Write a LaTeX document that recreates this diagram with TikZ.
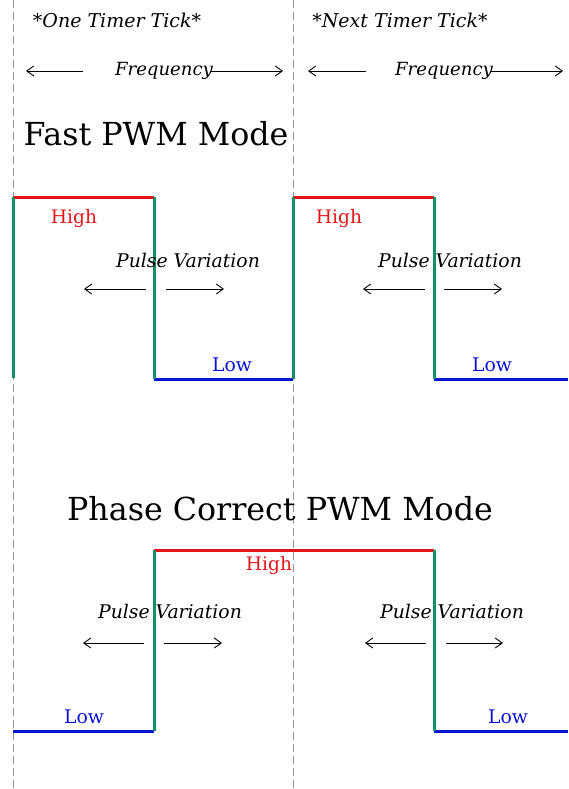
\documentclass[tikz,border=0pt]{standalone}
\usepackage{fontspec}
\setmainfont{DejaVu Serif}
\usetikzlibrary{arrows.meta}
\definecolor{pwmred}{RGB}{228,22,26}
\definecolor{pwmblue}{RGB}{10,20,215}
\definecolor{pwmgreen}{RGB}{22,142,104}
\definecolor{tickgray}{RGB}{150,150,150}
\begin{document}
\begin{tikzpicture}[x=1pt,y=-1pt,
  tickline/.style={draw=tickgray, line width=0.9pt, dash pattern=on 8pt off 4pt},
  hiline/.style={draw=pwmred, line width=3pt},
  loline/.style={draw=pwmblue, line width=3pt},
  edgeline/.style={draw=pwmgreen, line width=3pt},
  arr/.style={-{Straight Barb[length=7pt,width=10pt]}, line width=0.9pt},
  title/.style={inner sep=0pt, anchor=base, font=\fontsize{31.7}{32}\selectfont},
  head/.style={inner sep=0pt, anchor=base, font=\itshape\fontsize{19}{19}\selectfont},
  freq/.style={inner sep=0pt, anchor=base, font=\itshape\fontsize{18.1}{18}\selectfont},
  pulse/.style={inner sep=0pt, anchor=base, font=\itshape\fontsize{18.8}{19}\selectfont},
  hilbl/.style={inner sep=0pt, anchor=base, text=pwmred, font=\fontsize{18.6}{19}\selectfont},
  lolbl/.style={inner sep=0pt, anchor=base, text=pwmblue, font=\fontsize{18.8}{19}\selectfont}]
\useasboundingbox[fill=white] (0,0) rectangle (568,789);

% timer tick dashed lines
\coordinate (t1top) at (13,0);
\coordinate (t1bot) at (13,789);
\coordinate (t2top) at (293,0);
\coordinate (t2bot) at (293,789);
\draw[tickline] (t1top) -- (t1bot);
\draw[tickline] (t2top) -- (t2bot);

% headers
\node[head] (tick1) at (117,28) {*One Timer Tick*};
\node[head] (tick2) at (400,28) {*Next Timer Tick*};

\node[freq] (freq1) at (164,76) {Frequency};
\node[freq] (freq2) at (444,76) {Frequency};
\coordinate (f1a) at (83,71);  \coordinate (f1b) at (26,71);
\coordinate (f1c) at (210,71); \coordinate (f1d) at (283,71);
\coordinate (f2a) at (366,71); \coordinate (f2b) at (308,71);
\coordinate (f2c) at (490,71); \coordinate (f2d) at (563,71);
\draw[arr] (f1a) -- (f1b);
\draw[arr] (f1c) -- (f1d);
\draw[arr] (f2a) -- (f2b);
\draw[arr] (f2c) -- (f2d);

% ---------------- Fast PWM ----------------
\node[title] (fasttitle) at (156,145) {Fast PWM Mode};

\coordinate (a1) at (13,378);
\coordinate (a2) at (13,197);
\coordinate (a3) at (154,197);
\coordinate (a4) at (154,379);
\coordinate (a5) at (293,379);
\coordinate (a6) at (293,197);
\coordinate (a7) at (434,197);
\coordinate (a8) at (434,379);
\coordinate (a9) at (568,379);
\draw[hiline] (a2) -- (a3);
\draw[hiline] (a6) -- (a7);
\draw[loline] (a4) -- (a5);
\draw[loline] (a8) -- (a9);
\draw[edgeline] (a1) -- (a2);
\draw[edgeline] (a3) -- (a4);
\draw[edgeline] (a5) -- (a6);
\draw[edgeline] (a7) -- (a8);

\node[hilbl] (fhigh1) at (74,223) {High};
\node[hilbl] (fhigh2) at (339,223) {High};
\node[lolbl] (flow1) at (232,371) {Low};
\node[lolbl] (flow2) at (492,371) {Low};
\node[pulse] (fpv1) at (188,267) {Pulse Variation};
\node[pulse] (fpv2) at (450,267) {Pulse Variation};
\coordinate (p1a) at (146,289); \coordinate (p1b) at (84,289);
\coordinate (p1c) at (166,289); \coordinate (p1d) at (224,289);
\coordinate (p2a) at (425,289); \coordinate (p2b) at (363,289);
\coordinate (p2c) at (444,289); \coordinate (p2d) at (502,289);
\draw[arr] (p1a) -- (p1b);
\draw[arr] (p1c) -- (p1d);
\draw[arr] (p2a) -- (p2b);
\draw[arr] (p2c) -- (p2d);

% ---------------- Phase Correct PWM ----------------
\node[title] (phasetitle) at (280,520) {Phase Correct PWM Mode};

\coordinate (b1) at (13,731);
\coordinate (b2) at (154,731);
\coordinate (b3) at (154,550);
\coordinate (b4) at (434,550);
\coordinate (b5) at (434,731);
\coordinate (b6) at (568,731);
\draw[loline] (b1) -- (b2);
\draw[hiline] (b3) -- (b4);
\draw[loline] (b5) -- (b6);
\draw[edgeline] (b2) -- (b3);
\draw[edgeline] (b4) -- (b5);

\node[hilbl] (phigh) at (269,570) {High};
\node[lolbl] (plow1) at (84,723) {Low};
\node[lolbl] (plow2) at (508,723) {Low};
\node[pulse] (ppv1) at (170,618) {Pulse Variation};
\node[pulse] (ppv2) at (452,618) {Pulse Variation};
\coordinate (q1a) at (144,643); \coordinate (q1b) at (83,643);
\coordinate (q1c) at (164,643); \coordinate (q1d) at (222,643);
\coordinate (q2a) at (426,643); \coordinate (q2b) at (365,643);
\coordinate (q2c) at (446,643); \coordinate (q2d) at (503,643);
\draw[arr] (q1a) -- (q1b);
\draw[arr] (q1c) -- (q1d);
\draw[arr] (q2a) -- (q2b);
\draw[arr] (q2c) -- (q2d);
\end{tikzpicture}
\end{document}
